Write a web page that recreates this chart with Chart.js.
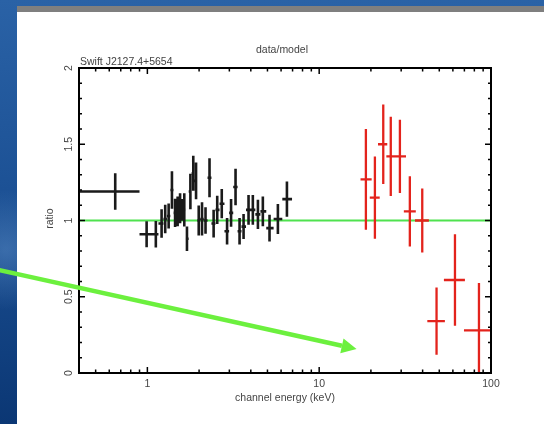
<!DOCTYPE html>
<html>
<head>
<meta charset="utf-8">
<script src="https://cdn.jsdelivr.net/npm/chart.js@4.4.0/dist/chart.umd.min.js"></script>
<style>
  html, body { margin: 0; padding: 0; background: #1a4d8c; }
  #wrap { width: 544px; height: 424px; position: relative; }
</style>
</head>
<body>
<div id="wrap"><canvas id="ratioChart" width="544" height="424"></canvas></div>
<script>
// XRT (black) and BAT (red) data/model ratio for Swift J2127.4+5654

const blackEnergy = [0.65, 0.99, 1.12, 1.21, 1.27, 1.33, 1.39, 1.45, 1.50, 1.55, 1.59, 1.64,
  1.70, 1.78, 1.85, 1.92, 1.99, 2.08, 2.18, 2.30, 2.43, 2.55, 2.71, 2.91, 3.07, 3.26,
  3.44, 3.63, 3.88, 4.11, 4.40, 4.70, 5.14, 5.75, 6.49];
// bin edges (one more than the number of points)
const blackEdges = [0.40, 0.90, 1.05, 1.16, 1.24, 1.30, 1.36, 1.42, 1.47, 1.52, 1.57, 1.61,
  1.67, 1.74, 1.81, 1.88, 1.95, 2.03, 2.13, 2.24, 2.36, 2.49, 2.63, 2.81, 2.99, 3.16,
  3.35, 3.53, 3.75, 3.99, 4.25, 4.55, 4.92, 5.43, 6.10, 6.95];
const blackRatio = [1.19, 0.91, 0.91, 0.98, 1.01, 1.03, 1.20, 1.05, 1.06, 1.08, 1.07, 1.07,
  0.88, 1.19, 1.31, 1.26, 1.00, 1.01, 1.00, 1.28, 0.98, 1.07, 1.11, 0.93, 1.05, 1.22,
  0.93, 0.96, 1.07, 1.07, 1.04, 1.06, 0.95, 1.01, 1.14];
const blackErr = [0.12, 0.085, 0.087, 0.093, 0.093, 0.082, 0.123, 0.093, 0.098, 0.098, 0.071, 0.109,
  0.080, 0.117, 0.115, 0.120, 0.098, 0.109, 0.087, 0.128, 0.091, 0.093, 0.096, 0.087, 0.091, 0.120,
  0.087, 0.082, 0.098, 0.098, 0.096, 0.098, 0.087, 0.098, 0.115];

const redEnergy = [18.7, 21.1, 23.6, 26.1, 29.5, 33.7, 39.8, 48.2, 61.7, 85.1];
const redLo = [17.4, 19.7, 22.0, 24.6, 27.6, 31.1, 36.1, 42.6, 53.2, 69.6];
const redHi = [20.2, 22.5, 24.9, 27.9, 32.0, 36.5, 43.5, 53.9, 70.5, 100];
const redRatio = [1.27, 1.15, 1.50, 1.42, 1.42, 1.06, 1.00, 0.34, 0.61, 0.28];
const redErr = [0.33, 0.27, 0.26, 0.26, 0.24, 0.23, 0.21, 0.22, 0.30, 0.31];

const modelLevel = 1;
const xTickLabels = ['1', '10', '100'];
const yTickLabels = ['0', '0.5', '1', '1.5', '2'];

// arrow annotation, in data units
const arrowFrom = { x: 0.137, y: 0.675 };
const arrowTo = { x: 16.5, y: 0.157 };

const FONT = '10.5px "Liberation Sans", Arial, sans-serif';

const black = blackEnergy.map((e, i) => ({
  x: e, y: blackRatio[i], lo: blackEdges[i], hi: blackEdges[i + 1], err: blackErr[i]
}));
const red = redEnergy.map((e, i) => ({
  x: e, y: redRatio[i], lo: redLo[i], hi: redHi[i], err: redErr[i]
}));

// slide background: blue, gray bar and white panel
const slideBackground = {
  id: 'slideBackground',
  beforeDraw(chart) {
    const ctx = chart.ctx;
    const w = chart.width, h = chart.height;
    ctx.save();
    const g = ctx.createLinearGradient(0, 0, 0, h);
    g.addColorStop(0, '#2a62a6');
    g.addColorStop(0.45, '#1c5195');
    g.addColorStop(1, '#0b3774');
    ctx.fillStyle = g;
    ctx.fillRect(0, 0, w, h);
    const r = ctx.createRadialGradient(6, 250, 2, 6, 250, 60);
    r.addColorStop(0, 'rgba(120,170,225,0.35)');
    r.addColorStop(1, 'rgba(120,170,225,0)');
    ctx.fillStyle = r;
    ctx.fillRect(0, 180, 17, 140);
    ctx.fillStyle = '#7f7f7f';
    ctx.fillRect(17, 6, w - 17, 6);
    ctx.fillStyle = '#ffffff';
    ctx.fillRect(17, 12, w - 17, h - 12);
    ctx.restore();
  }
};

function drawBars(ctx, xs, ys, pts, color, width, area) {
  ctx.save();
  ctx.beginPath();
  ctx.rect(area.left, area.top, area.right - area.left, area.bottom - area.top);
  ctx.clip();
  ctx.strokeStyle = color;
  ctx.lineWidth = width;
  ctx.beginPath();
  pts.forEach(p => {
    const cx = xs.getPixelForValue(p.x);
    const cy = ys.getPixelForValue(p.y);
    ctx.moveTo(xs.getPixelForValue(p.lo), cy);
    ctx.lineTo(xs.getPixelForValue(p.hi), cy);
    ctx.moveTo(cx, ys.getPixelForValue(p.y + p.err));
    ctx.lineTo(cx, ys.getPixelForValue(p.y - p.err));
  });
  ctx.stroke();
  ctx.restore();
}

const errorBars = {
  id: 'errorBars',
  afterDatasetsDraw(chart) {
    const { ctx, chartArea, scales } = chart;
    drawBars(ctx, scales.x, scales.y, black, '#1a1a1a', 2.6, chartArea);
    drawBars(ctx, scales.x, scales.y, red, '#e3231c', 2.3, chartArea);
  }
};

// frame with inward ticks on all sides, labels, titles, arrow
const frameAndText = {
  id: 'frameAndText',
  afterDraw(chart) {
    const { ctx, chartArea: a, scales } = chart;
    const xs = scales.x, ys = scales.y;
    ctx.save();
    ctx.strokeStyle = '#000';
    ctx.lineWidth = 2;
    ctx.strokeRect(a.left, a.top, a.right - a.left, a.bottom - a.top);

    ctx.lineWidth = 1.5;
    ctx.beginPath();
    for (let i = 0; i <= 20; i++) {
      const v = i / 10;
      const py = ys.getPixelForValue(v);
      const len = (i % 5 === 0) ? 6 : 3;
      ctx.moveTo(a.left, py); ctx.lineTo(a.left + len, py);
      ctx.moveTo(a.right, py); ctx.lineTo(a.right - len, py);
    }
    [0.1, 1, 10].forEach(d => {
      for (let m = 1; m <= 9; m++) {
        const v = m * d;
        if (v < 0.4 || v > 100) continue;
        const px = xs.getPixelForValue(v);
        const len = (m === 1) ? 6 : 3.5;
        ctx.moveTo(px, a.bottom); ctx.lineTo(px, a.bottom - len);
        ctx.moveTo(px, a.top); ctx.lineTo(px, a.top + len);
      }
    });
    ctx.stroke();

    ctx.fillStyle = '#444';
    ctx.font = FONT;
    ctx.textAlign = 'center';
    ctx.textBaseline = 'middle';
    xTickLabels.forEach(t => {
      ctx.fillText(t, xs.getPixelForValue(parseFloat(t)), a.bottom + 11);
    });
    yTickLabels.forEach(t => {
      ctx.save();
      ctx.translate(a.left - 10, ys.getPixelForValue(parseFloat(t)));
      ctx.rotate(-Math.PI / 2);
      ctx.fillText(t, 0, 0);
      ctx.restore();
    });
    ctx.fillText('channel energy (keV)', (a.left + a.right) / 2, a.bottom + 25);
    ctx.save();
    ctx.translate(50, (a.top + a.bottom) / 2 - 2);
    ctx.rotate(-Math.PI / 2);
    ctx.fillText('ratio', 0, 0);
    ctx.restore();
    ctx.fillText('data/model', 282, 50);
    ctx.textAlign = 'left';
    ctx.fillText('Swift J2127.4+5654', a.left + 1, 62);

    // arrow
    const x0 = xs.getPixelForValue(arrowFrom.x), y0 = ys.getPixelForValue(arrowFrom.y);
    const x1 = xs.getPixelForValue(arrowTo.x), y1 = ys.getPixelForValue(arrowTo.y);
    const ang = Math.atan2(y1 - y0, x1 - x0);
    const headLen = 15, headHalf = 7.5;
    const bx = x1 - headLen * Math.cos(ang), by = y1 - headLen * Math.sin(ang);
    ctx.strokeStyle = '#6cf03e';
    ctx.fillStyle = '#6cf03e';
    ctx.lineWidth = 4.5;
    ctx.beginPath();
    ctx.moveTo(x0, y0);
    ctx.lineTo(bx, by);
    ctx.stroke();
    ctx.beginPath();
    ctx.moveTo(x1, y1);
    ctx.lineTo(bx + headHalf * Math.sin(ang), by - headHalf * Math.cos(ang));
    ctx.lineTo(bx - headHalf * Math.sin(ang), by + headHalf * Math.cos(ang));
    ctx.closePath();
    ctx.fill();
    ctx.restore();
  }
};

new Chart(document.getElementById('ratioChart'), {
  type: 'scatter',
  data: {
    datasets: [
      {
        type: 'line',
        label: 'model',
        data: [{ x: 0.4, y: modelLevel }, { x: 100, y: modelLevel }],
        borderColor: '#4fe24f',
        borderWidth: 2,
        pointRadius: 0,
        order: 2
      },
      {
        label: 'XRT',
        data: black,
        pointRadius: 0,
        borderColor: '#1a1a1a',
        backgroundColor: '#1a1a1a',
        order: 1
      },
      {
        label: 'BAT',
        data: red,
        pointRadius: 0,
        borderColor: '#e3231c',
        backgroundColor: '#e3231c',
        order: 1
      }
    ]
  },
  options: {
    responsive: false,
    animation: false,
    events: [],
    layout: { padding: { left: 79, right: 53, top: 68, bottom: 51 } },
    scales: {
      x: { type: 'logarithmic', min: 0.4, max: 100, display: false },
      y: { type: 'linear', min: 0, max: 2, display: false }
    },
    plugins: {
      legend: { display: false },
      tooltip: { enabled: false }
    }
  },
  plugins: [slideBackground, errorBars, frameAndText]
});
</script>
</body>
</html>
